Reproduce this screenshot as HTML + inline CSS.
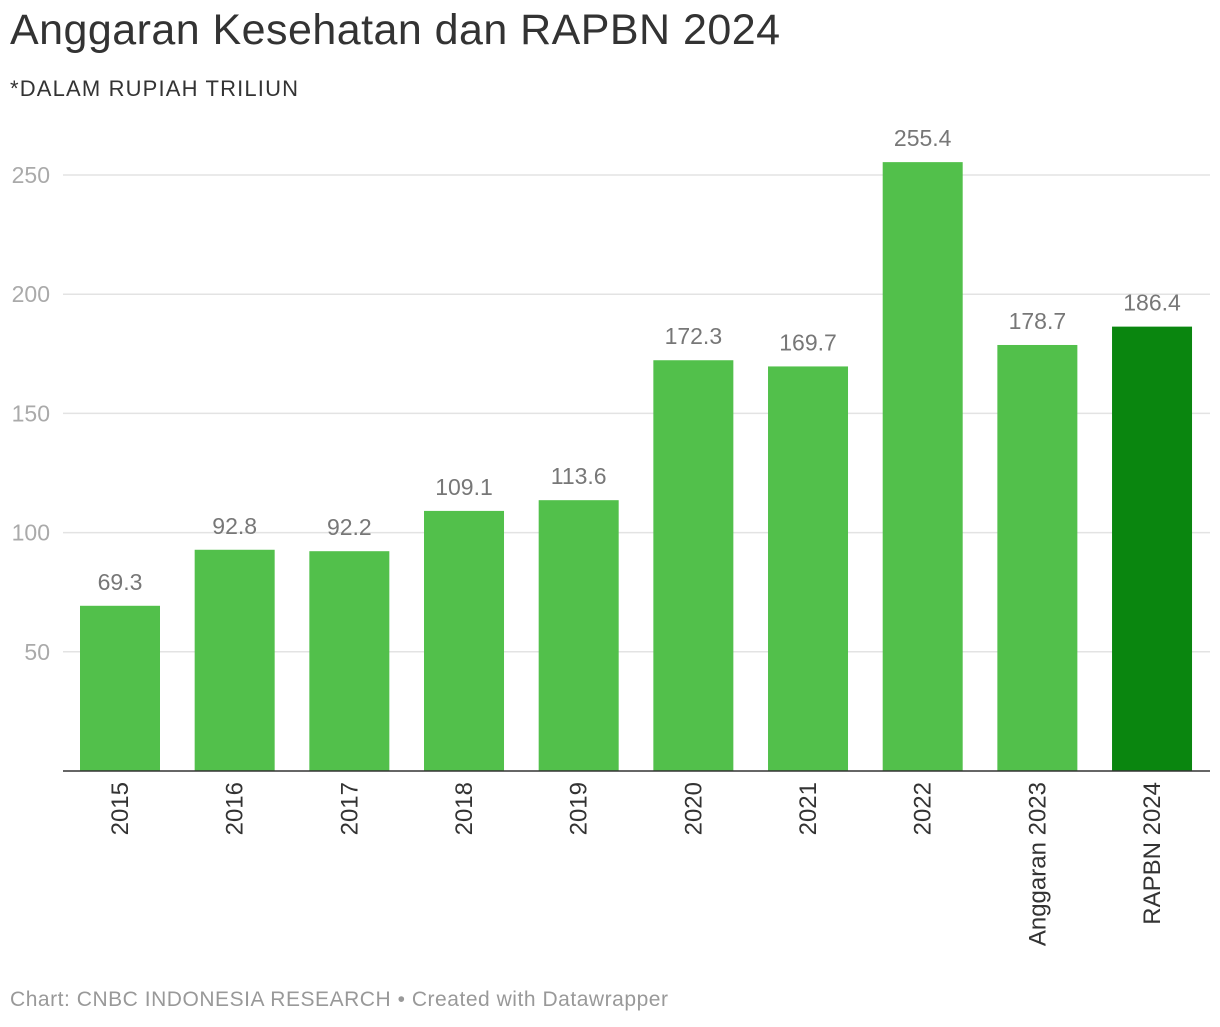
<!DOCTYPE html>
<html><head><meta charset="utf-8"><style>
body{margin:0;background:#fff;font-family:"Liberation Sans",Arial,sans-serif;}
</style></head><body>
<svg width="1220" height="1022" xmlns="http://www.w3.org/2000/svg" font-family="Liberation Sans, Arial, sans-serif">
<text x="10" y="44" font-size="43" textLength="770" fill="#333">Anggaran Kesehatan dan RAPBN 2024</text>
<text x="10" y="96" font-size="22" textLength="288" fill="#333">*DALAM RUPIAH TRILIUN</text>
<g id="grid"></g><g id="bars"></g>
<text x="10" y="1006" font-size="21" textLength="658" fill="#999">Chart: CNBC INDONESIA RESEARCH • Created with Datawrapper</text>
</svg>
<script>
const categories=["2015","2016","2017","2018","2019","2020","2021","2022","Anggaran 2023","RAPBN 2024"];
const values=[69.3,92.8,92.2,109.1,113.6,172.3,169.7,255.4,178.7,186.4];
const ticks=[50,100,150,200,250];
const NS="http://www.w3.org/2000/svg";
const y=v=>771-v*2.384;
const x=i=>80+i*114.67;
const grid=document.getElementById('grid'),bars=document.getElementById('bars');
function mk(tag,attrs,parent,txt){const e=document.createElementNS(NS,tag);for(const k in attrs)e.setAttribute(k,attrs[k]);if(txt!==undefined)e.textContent=txt;parent.appendChild(e);return e;}
ticks.forEach(t=>{
 const l=mk('line',{x1:63,x2:1210,y1:y(t),y2:y(t),stroke:'#e3e3e3','stroke-width':1.5},grid);
 
 
 const tx=mk('text',{x:50,y:y(t)+8,'text-anchor':'end','font-size':23,fill:'#aaa'},grid,t);
 
 
});
values.forEach((v,i)=>{
 const r=mk('rect',{x:x(i),y:y(v),width:80,height:771-y(v),fill:i===9?'#0a860f':'#52c04b'},bars);
 
 
 const vl=mk('text',{x:x(i)+40,y:y(v)-16,'text-anchor':'middle','font-size':23,fill:'#777'},bars,v.toFixed(1));
 
 
 const cx=x(i)+40+8;
 const cl=mk('text',{x:0,y:0,transform:`translate(${cx},782) rotate(-90)`,'text-anchor':'end','font-size':24,fill:'#333'},bars,categories[i]);
 
 
});
const b=mk('line',{x1:63,x2:1210,y1:771,y2:771,stroke:'#333','stroke-width':1.5},bars);


</script>
</body></html>
